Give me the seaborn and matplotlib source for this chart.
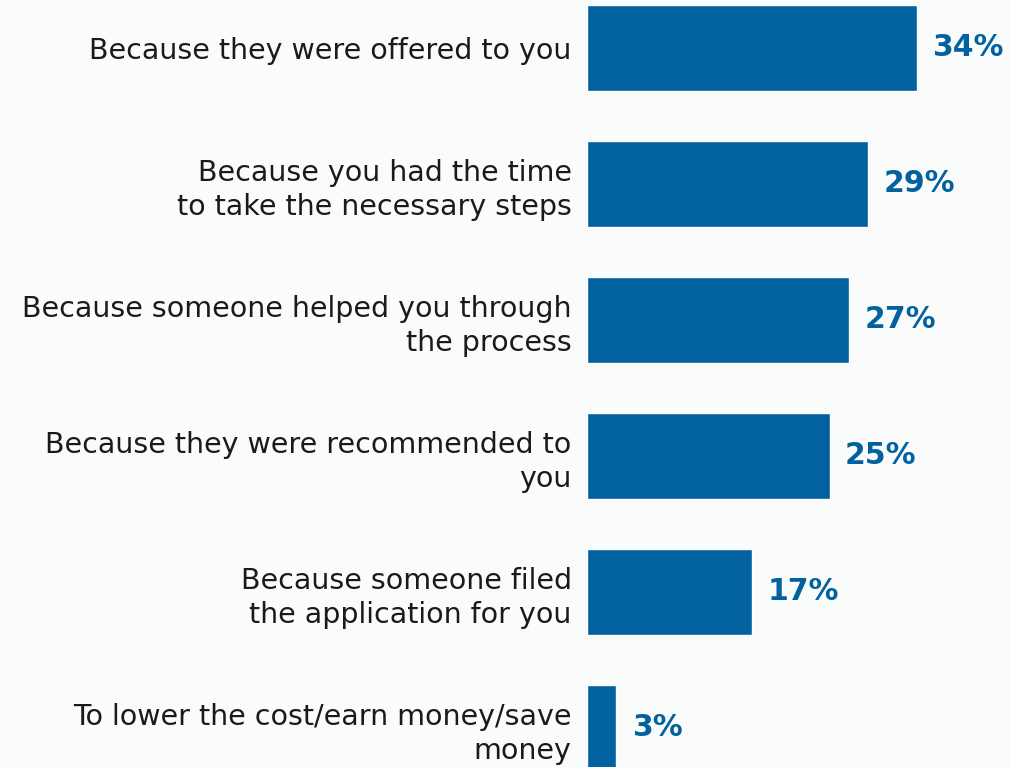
import pandas as pd
import matplotlib.pyplot as plt
import seaborn as sns

reasons = [
    "Because they were offered to you",
    "Because you had the time\nto take the necessary steps",
    "Because someone helped you through\nthe process",
    "Because they were recommended to\nyou",
    "Because someone filed\nthe application for you",
    "To lower the cost/earn money/save\nmoney",
]
shares = [34, 29, 27, 25, 17, 3]

df = pd.DataFrame({"reason": reasons, "share": shares})

bg = "#fafcfc"
blue = "#0262a0"

sns.set_theme(style="white")
plt.rcParams["font.family"] = ["DejaVu Sans"]

fig = plt.figure(figsize=(10.1, 7.67), dpi=100, facecolor=bg)
ax = fig.add_axes([587 / 1010, 0, 1 - 587 / 1010, 1])
ax.set_facecolor(bg)

sns.barplot(data=df, y="reason", x="share", orient="h", color=blue,
            width=0.632, saturation=1, ax=ax)

ax.set_xlim(0, (1010 - 587) / 9.7)
ax.set_ylim((767 - 48) / 136, -48 / 136)

for i, v in enumerate(shares):
    ax.text(v + 1.6, i, f"{v}%", va="center", ha="left", color=blue,
            fontsize=21.5, fontweight="bold")

ax.set_xlabel("")
ax.set_ylabel("")
ax.set_xticks([])
ax.tick_params(axis="y", length=0, pad=11, labelsize=20.5, labelcolor="#1a1a1a")
for lbl in ax.get_yticklabels():
    lbl.set_horizontalalignment("right")
    lbl.set_multialignment("right")
    lbl.set_linespacing(1.28)
sns.despine(ax=ax, left=True, bottom=True)

fig.savefig("out.png", dpi=100, facecolor=bg)
